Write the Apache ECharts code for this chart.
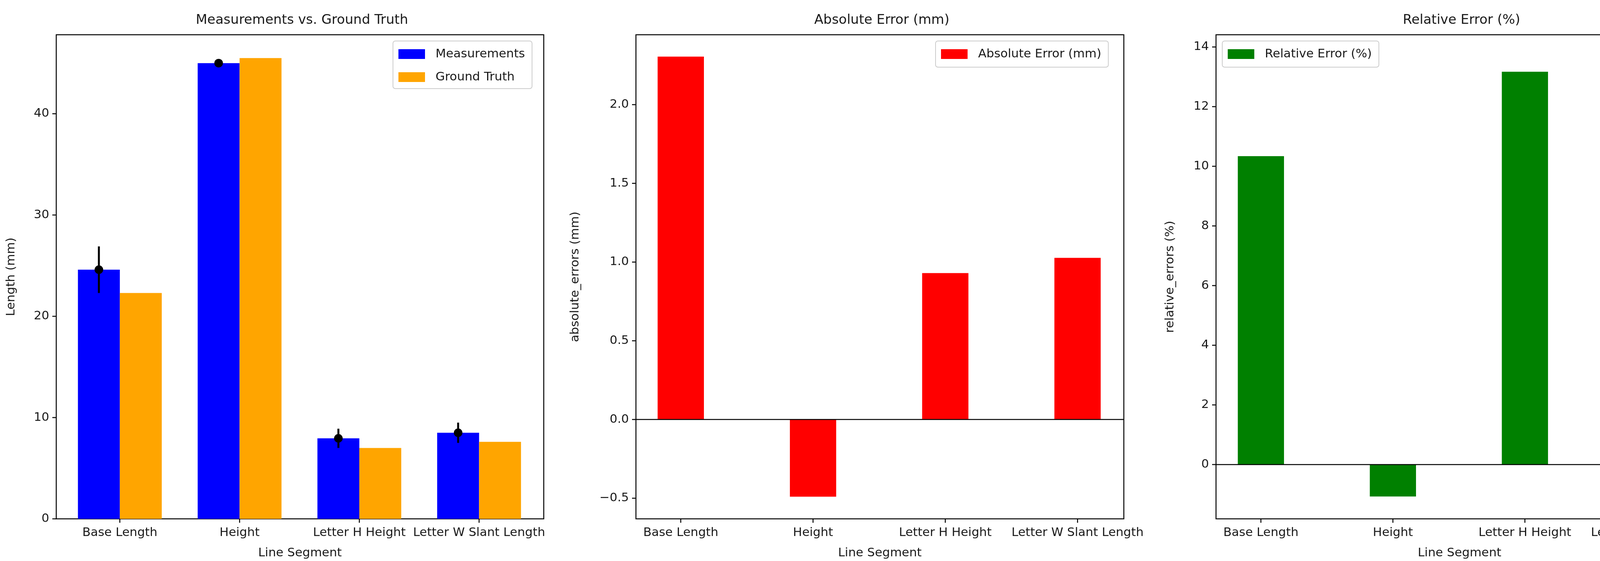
<!DOCTYPE html>
<html><head><meta charset="utf-8">
<script src="https://cdn.jsdelivr.net/npm/echarts@6/dist/echarts.min.js"></script>
<style>html,body{margin:0;padding:0;background:#fff}#c{width:4446px;height:1437px}</style>
</head><body><div id="c"></div>
<script>
const categories = ['Base Length', 'Height', 'Letter H Height', 'Letter W Slant Length'];
const measurements = [24.6, 45.0, 7.95, 8.5];
const measurementErr = [2.3, 0.3, 0.95, 1.0];
const groundTruth = [22.3, 45.5, 7.0, 7.6];
const absoluteErrors = [2.305, -0.49, 0.93, 1.027];
const relativeErrors = [10.34, -1.07, 13.17, 13.68];
const lengthTicks = [0, 10, 20, 30, 40];
const absTicks = [-0.5, 0, 0.5, 1.0, 1.5, 2.0];
const relTicks = [0, 2, 4, 6, 8, 10, 12, 14];
const catTicks = [0, 1, 2, 3];

const FONT = 'DejaVu Sans';
const TXT = '#1a1a1a';

function barSeries(name, idx, values, offset, width, color) {
  return {
    type: 'custom', name, xAxisIndex: idx, yAxisIndex: idx,
    itemStyle: { color },
    data: values.map((v, i) => [i, v]),
    renderItem: (params, api) => {
      const x = api.value(0), v = api.value(1);
      const p0 = api.coord([x + offset - width / 2, 0]);
      const p1 = api.coord([x + offset + width / 2, v]);
      return { type: 'rect', shape: { x: p0[0], y: Math.min(p0[1], p1[1]), width: p1[0] - p0[0], height: Math.abs(p1[1] - p0[1]) }, style: { fill: color } };
    }
  };
}
function errSeries(idx, values, errs, offset) {
  return {
    type: 'custom', xAxisIndex: idx, yAxisIndex: idx, z: 5,
    data: values.map((v, i) => [i, v, errs[i]]),
    renderItem: (params, api) => {
      const x = api.value(0) + offset, v = api.value(1), e = api.value(2);
      const a = api.coord([x, v - e]), b = api.coord([x, v + e]), c = api.coord([x, v]);
      return { type: 'group', children: [
        { type: 'line', shape: { x1: a[0], y1: a[1], x2: b[0], y2: b[1] }, style: { stroke: '#000', lineWidth: 5 } },
        { type: 'circle', shape: { cx: c[0], cy: c[1], r: 11 }, style: { fill: '#000' } }
      ]};
    }
  };
}
function zeroLine(idx) {
  return {
    type: 'custom', xAxisIndex: idx, yAxisIndex: idx, z: 6, silent: true,
    data: [[0, 0]],
    renderItem: (params, api) => {
      const cs = params.coordSys;
      const y = api.coord([0, 0])[1];
      return { type: 'line', shape: { x1: cs.x, y1: y, x2: cs.x + cs.width, y2: y }, style: { stroke: '#000', lineWidth: 2.5 } };
    }
  };
}
function yTickSeries(idx, ticks) {
  return {
    type: 'custom', xAxisIndex: idx, yAxisIndex: idx, z: 7, silent: true, clip: false,
    data: ticks.map(t => [0, t]),
    renderItem: (params, api) => {
      const cs = params.coordSys;
      const y = api.coord([0, api.value(1)])[1];
      return { type: 'line', shape: { x1: cs.x - 10, y1: y, x2: cs.x, y2: y }, style: { stroke: '#000', lineWidth: 2.5 } };
    }
  };
}
function xTickSeries(idx) {
  return {
    type: 'custom', xAxisIndex: idx, yAxisIndex: idx, z: 7, silent: true, clip: false,
    data: catTicks.map(t => [t, 0]),
    renderItem: (params, api) => {
      const cs = params.coordSys;
      const x = api.coord([api.value(0), 0])[0];
      const yb = cs.y + cs.height;
      return { type: 'line', shape: { x1: x, y1: yb, x2: x, y2: yb + 10 }, style: { stroke: '#000', lineWidth: 2.5 } };
    }
  };
}
const grids = [
  { left: 144, top: 89, width: 1248, height: 1273 },
  { left: 1628, top: 89, width: 1249, height: 1273 },
  { left: 3113, top: 89, width: 1247, height: 1273 }
];
const xr = [[-0.531, 3.54], [-0.339, 3.35], [-0.34, 3.35]];
const yr = [[0, 47.8, lengthTicks], [-0.631, 2.444, absTicks], [-1.82, 14.41, relTicks]];
const ynames = ['Length (mm)', 'absolute_errors (mm)', 'relative_errors (%)'];
const ygaps = [100, 140, 102];
const titles = ['Measurements vs. Ground Truth', 'Absolute Error (mm)', 'Relative Error (%)'];
const legendText = { fontSize: 31, color: TXT, fontFamily: FONT, padding: [0, 0, 0, 22] };

const option = {
  animation: false,
  textStyle: { fontFamily: FONT },
  title: titles.map((t, i) => ({ text: t, left: grids[i].left + grids[i].width / 2, textAlign: 'center', top: 30,
    textStyle: { fontFamily: FONT, fontSize: 34, fontWeight: 'normal', color: TXT } })),
  grid: grids.map(g => Object.assign({ show: true, borderColor: '#000', borderWidth: 2.5, backgroundColor: 'transparent' }, g)),
  xAxis: xr.map((r, i) => ({
    type: 'value', gridIndex: i, min: r[0], max: r[1], splitLine: { show: false },
    axisLine: { show: false }, axisTick: { show: false },
    axisLabel: { customValues: catTicks, formatter: v => categories[Math.round(v)] || '', fontSize: 31, color: TXT, margin: 20, fontFamily: FONT },
    name: 'Line Segment', nameLocation: 'middle', nameGap: 72,
    nameTextStyle: { fontSize: 31, color: TXT, fontFamily: FONT }
  })),
  yAxis: yr.map((r, i) => ({
    type: 'value', gridIndex: i, min: r[0], max: r[1], splitLine: { show: false },
    axisLine: { show: false }, axisTick: { show: false },
    axisLabel: { customValues: r[2], fontSize: 31, color: TXT, margin: 18, fontFamily: FONT,
      formatter: v => i === 1 ? (v < 0 ? '\u2212' + Math.abs(v).toFixed(1) : v.toFixed(1)) : String(v) },
    name: ynames[i], nameLocation: 'middle', nameGap: ygaps[i], nameRotate: 90,
    nameTextStyle: { fontSize: 31, color: TXT, fontFamily: FONT }
  })),
  legend: [
    { data: ['Measurements', 'Ground Truth'], orient: 'vertical', left: 1006, top: 105,
      itemWidth: 68, itemHeight: 25, itemGap: 28, icon: 'rect', borderColor: '#ccc', borderWidth: 2, borderRadius: 6,
      padding: [18, 18, 14, 14], textStyle: legendText },
    { data: ['Absolute Error (mm)'], left: 2395, top: 105, itemWidth: 68, itemHeight: 25, icon: 'rect',
      borderColor: '#ccc', borderWidth: 2, borderRadius: 6, padding: [18, 18, 18, 14], textStyle: legendText },
    { data: ['Relative Error (%)'], left: 3129, top: 105, itemWidth: 68, itemHeight: 25, icon: 'rect',
      borderColor: '#ccc', borderWidth: 2, borderRadius: 6, padding: [18, 18, 18, 14], textStyle: legendText }
  ],
  series: [
    barSeries('Measurements', 0, measurements, -0.175, 0.35, '#0000ff'),
    barSeries('Ground Truth', 0, groundTruth, 0.175, 0.35, '#ffa500'),
    errSeries(0, measurements, measurementErr, -0.175),
    barSeries('Absolute Error (mm)', 1, absoluteErrors, 0, 0.35, '#ff0000'),
    zeroLine(1),
    barSeries('Relative Error (%)', 2, relativeErrors, 0, 0.35, '#008000'),
    zeroLine(2),
    yTickSeries(0, lengthTicks), yTickSeries(1, absTicks), yTickSeries(2, relTicks),
    xTickSeries(0), xTickSeries(1), xTickSeries(2)
  ]
};
echarts.init(document.getElementById('c')).setOption(option);
</script></body></html>
